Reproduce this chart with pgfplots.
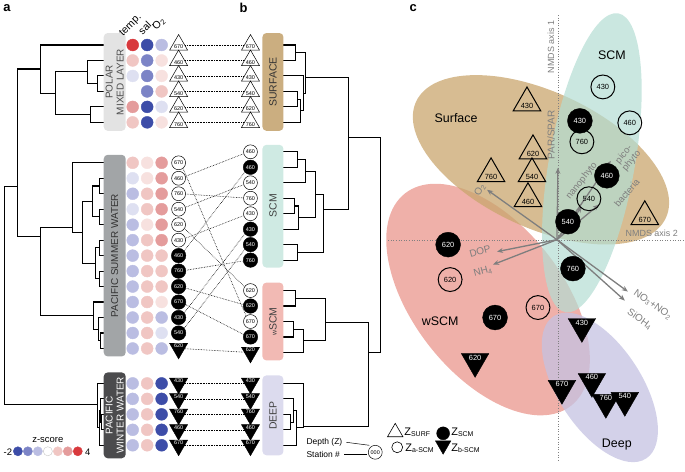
\documentclass[border=0pt]{standalone}
\usepackage{pgfplots}
\pgfplotsset{compat=1.18}
\usepackage{fontspec}
\setmainfont{Liberation Sans}
\usetikzlibrary{arrows.meta}
\definecolor{zdb}{HTML}{3D4DA8}
\definecolor{zmb}{HTML}{7C84C6}
\definecolor{zlb}{HTML}{BABDE2}
\definecolor{zvb}{HTML}{DEE0F1}
\definecolor{zvr}{HTML}{F7E1DF}
\definecolor{zlr}{HTML}{F0C6C3}
\definecolor{zmr}{HTML}{E49C9C}
\definecolor{zdr}{HTML}{D8393D}
\definecolor{cSurf}{HTML}{C9A66E}
\definecolor{cSCM}{HTML}{B3DDD3}
\definecolor{cwSCM}{HTML}{EB9C93}
\definecolor{cDeep}{HTML}{C4C2E2}
\definecolor{boxPML}{HTML}{E3E3E3}
\definecolor{boxPSW}{HTML}{A2A5A7}
\definecolor{boxPWW}{HTML}{4B4B4D}
\definecolor{boxSurf}{HTML}{CBAE80}
\definecolor{boxSCM}{HTML}{CFEAE3}
\definecolor{boxwSCM}{HTML}{F2BAB4}
\definecolor{boxDeep}{HTML}{DCDBEE}
\definecolor{arrgray}{HTML}{7E7E7E}
\newcommand{\fs}[2]{\fontsize{#1}{#2}\selectfont}
\pgfplotsset{
  dend/.style={black, line width=1.1pt, no markers, line join=miter},
  lbl/.style={point meta=explicit symbolic, nodes near coords, nodes near coords align=center},
  symup/.style={only marks, lbl, mark=triangle*, mark size=10.5pt, mark options={fill=white, draw=black, line width=0.5pt},
     every node near coord/.append style={font=\fs{5.5}{6}, inner sep=0pt, text=black, yshift=-2pt}},
  symoc/.style={only marks, lbl, mark=*, mark size=7pt, mark options={fill=white, draw=black, line width=0.5pt},
     every node near coord/.append style={font=\fs{5.5}{6}, inner sep=0pt, text=black}},
  symbc/.style={only marks, lbl, mark=*, mark size=7.3pt, mark options={fill=black, draw=black},
     every node near coord/.append style={font=\fs{5.5}{6}, inner sep=0pt, text=white}},
  symdn/.style={only marks, lbl, mark=triangle*, mark size=10.5pt, mark options={rotate=180, fill=black, draw=black},
     every node near coord/.append style={font=\fs{5.5}{6}, inner sep=0pt, text=white, yshift=2.5pt}},
  cup/.style={only marks, lbl, mark=triangle, mark size=16pt, mark options={draw=black, line width=1pt},
     every node near coord/.append style={font=\fs{7.5}{8}, inner sep=0pt, text=black, yshift=-3pt}},
  coc/.style={only marks, lbl, mark=o, mark size=12pt, mark options={draw=black, line width=1pt},
     every node near coord/.append style={font=\fs{7.5}{8}, inner sep=0pt, text=black}},
  cbc/.style={only marks, lbl, mark=*, mark size=12.5pt, mark options={fill=black, draw=black},
     every node near coord/.append style={font=\fs{7.5}{8}, inner sep=0pt, text=white}},
  cdn/.style={only marks, lbl, mark=triangle*, mark size=16pt, mark options={rotate=180, fill=black, draw=black},
     every node near coord/.append style={font=\fs{7.5}{8}, inner sep=0pt, text=white, yshift=4pt}},
  arr/.style={arrgray, line width=1.3pt, no markers, -{Stealth[length=6pt,width=5pt]}},
}
\newcommand{\D}[1]{\addplot[dend] coordinates {#1};}
\newcommand{\Lk}[2]{\addplot[black, densely dotted, line width=0.6pt, no markers] coordinates {(180,#1)(248,#2)};}
\begin{document}
\begin{tikzpicture}
\begin{axis}[width=685bp, height=466bp, scale only axis,
  xmin=0, xmax=685, ymin=0, ymax=466, y dir=reverse, hide axis, clip=false]
\path (rel axis cs:0,0) rectangle (rel axis cs:1,1);
% ================= panel c : ellipses =================
\fill[cwSCM, fill opacity=0.8] (axis cs:488,300) ellipse [x radius=135bp, y radius=75bp, rotate=-52];
\fill[cSurf, fill opacity=0.75] (axis cs:541,160) ellipse [x radius=138bp, y radius=68bp, rotate=-25];
\fill[cSCM, fill opacity=0.7] (axis cs:592,163) ellipse [x radius=43bp, y radius=152bp, rotate=-10];
\fill[cDeep, fill opacity=0.75] (axis cs:600,388) ellipse [x radius=85bp, y radius=42bp, rotate=-57];
% NMDS axes
\addplot[gray, dotted, line width=0.6pt, no markers] coordinates {(558,15)(558,462)};
\addplot[gray, dotted, line width=0.6pt, no markers] coordinates {(388,241)(685,241)};
\node[rotate=90, font=\fs{9}{10}, text=arrgray] at (axis cs:551,47) {NMDS axis 1};
\node[font=\fs{9}{10}, text=arrgray] at (axis cs:652,234) {NMDS axis 2};
% arrows
\addplot[arr] coordinates {(557,240)(558,168)};
\addplot[arr] coordinates {(557,240)(487,190)};
\addplot[arr] coordinates {(557,240)(582,207)};
\addplot[arr] coordinates {(557,240)(611,161)};
\addplot[arr] coordinates {(557,240)(599,205)};
\addplot[arr] coordinates {(557,240)(497,252)};
\addplot[arr] coordinates {(557,240)(493,265)};
\addplot[arr] coordinates {(557,240)(628,292)};
\addplot[arr] coordinates {(557,240)(625,301)};
\node[rotate=90, font=\fs{10}{11}, text=arrgray] at (axis cs:551,135) {PAR/SPAR};
\node[rotate=60, font=\fs{10}{11}, text=arrgray] at (axis cs:480,190) {O\textsubscript{2}};
\node[rotate=52, font=\fs{9.5}{10}, text=arrgray] at (axis cs:582,181) {nanophyto};
\node[rotate=50, font=\fs{9.5}{10}, text=arrgray, align=center] at (axis cs:628,158) {pico-\\phyto};
\node[rotate=50, font=\fs{9.5}{10}, text=arrgray] at (axis cs:627,193) {bacteria};
\node[rotate=15, font=\fs{10}{11}, text=arrgray] at (axis cs:480,252) {DOP};
\node[rotate=15, font=\fs{10}{11}, text=arrgray] at (axis cs:483,272) {NH\textsubscript{4}};
\node[rotate=-35, font=\fs{10}{11}, text=arrgray] at (axis cs:653,305) {NO\textsubscript{3}+NO\textsubscript{2}};
\node[rotate=-35, font=\fs{10}{11}, text=arrgray] at (axis cs:640,320) {SiOH\textsubscript{4}};
% points panel c
\addplot[cup] coordinates {(527,103)[430] (533,151)[620] (532,174)[540] (528,199)[460] (491,174)[760] (645,217)[670]};
\addplot[coc] coordinates {(603,87)[430] (630,123)[460] (582,142)[760] (589,199)[540] (450,280)[620] (538,308)[670]};
\addplot[cbc] coordinates {(580,121)[430] (607,176)[460] (568,222)[540] (573,269)[760] (448,245)[620] (495,318)[670]};
\addplot[cdn] coordinates {(475,362)[620] (582,327)[430] (562,389)[670] (592,382)[460] (606,403)[760] (625,401)[540]};
\node[font=\fs{12.5}{13}] at (axis cs:456,118) {Surface};
\node[font=\fs{12.5}{13}] at (axis cs:612,55) {SCM};
\node[font=\fs{12.5}{13}] at (axis cs:440,322) {wSCM};
\node[font=\fs{12.5}{13}] at (axis cs:617,445) {Deep};
% legend panel c
\addplot[only marks, mark=triangle, mark size=9pt, mark options={draw=black, line width=0.6pt}] coordinates {(395,433)};
\addplot[only marks, mark=*, mark size=6.5pt, black] coordinates {(443,434)};
\addplot[only marks, mark=o, mark size=5.5pt, mark options={draw=black, line width=0.6pt}] coordinates {(397,448)};
\addplot[only marks, mark=triangle*, mark size=9pt, mark options={rotate=180, fill=black, draw=black}] coordinates {(443,446)};
\node[anchor=west, font=\fs{11}{12}, inner sep=0pt] at (axis cs:404,433) {Z\textsubscript{\fs{7}{8}SURF}};
\node[anchor=west, font=\fs{11}{12}, inner sep=0pt] at (axis cs:451,433) {Z\textsubscript{\fs{7}{8}SCM}};
\node[anchor=west, font=\fs{11}{12}, inner sep=0pt] at (axis cs:405,449) {Z\textsubscript{\fs{7}{8}a-SCM}};
\node[anchor=west, font=\fs{11}{12}, inner sep=0pt] at (axis cs:451,449) {Z\textsubscript{\fs{7}{8}b-SCM}};
% ================= panel a dendrogram =================
\D{(103,76)(97,76)(97,91.5)(103,91.5)}
\D{(103,60.5)(87,60.5)(87,83.75)(97,83.75)}
\D{(103,107)(90,107)(90,122.5)(103,122.5)}
\D{(87,72)(55,72)(55,114.75)(90,114.75)}
\D{(103,45)(40,45)(40,93.4)(55,93.4)}
\D{(40,69)(17,69)(17,237)(40,237)}
\D{(103,178.5)(99,178.5)(99,194)(103,194)}
\D{(103,209.5)(99,209.5)(99,225)(103,225)}
\D{(99,186.25)(92,186.25)(92,217.25)(99,217.25)}
\D{(103,240.5)(99,240.5)(99,256)(103,256)}
\D{(103,271.5)(99,271.5)(99,287)(103,287)}
\D{(99,248.25)(95,248.25)(95,279.25)(99,279.25)}
\D{(92,201.75)(82,201.75)(82,263.75)(95,263.75)}
\D{(103,163)(72,163)(72,232.75)(82,232.75)}
\D{(103,333.5)(100,333.5)(100,349)(103,349)}
\D{(103,318)(98,318)(98,341.25)(100,341.25)}
\D{(103,302.5)(93,302.5)(93,329.6)(98,329.6)}
\D{(72,228)(40,228)(40,316)(93,316)}
\D{(17,187)(4,187)(4,405)(97,405)}
\D{(103,415)(101,415)(101,430.5)(103,430.5)}
\D{(103,399.5)(99.5,399.5)(99.5,422.75)(101,422.75)}
\D{(99.5,411)(98.5,411)(98.5,446)(103,446)}
\D{(103,384)(97,384)(97,428.5)(98.5,428.5)}
% ================= panel b dendrogram =================
\D{(283,45)(295,45)(295,60.5)(283,60.5)}
\D{(283,91.5)(297,91.5)(297,107)(283,107)}
\D{(297,99.25)(300,99.25)(300,122.5)(283,122.5)}
\D{(283,76)(303,76)(303,110.9)(300,110.9)}
\D{(295,52.75)(305,52.75)(305,93.4)(303,93.4)}
\D{(305,78)(348,78)(348,210)(323,210)}
\D{(283,152)(297,152)(297,167.5)(283,167.5)}
\D{(297,159.75)(305,159.75)(305,183)(283,183)}
\D{(283,198.5)(294,198.5)(294,214)(283,214)}
\D{(294,206.25)(298,206.25)(298,229.5)(283,229.5)}
\D{(305,171.4)(315,171.4)(315,217.9)(298,217.9)}
\D{(283,245)(297,245)(297,260.5)(283,260.5)}
\D{(315,194.6)(323,194.6)(323,252.75)(297,252.75)}
\D{(348,138)(380,138)(380,353)(368,353)}
\D{(283,291)(295,291)(295,306.5)(283,306.5)}
\D{(283,322)(293,322)(293,337.5)(283,337.5)}
\D{(293,329.75)(303,329.75)(303,353)(283,353)}
\D{(295,298.75)(325,298.75)(325,341.4)(303,341.4)}
\D{(325,323)(368,323)(368,427)(303,427)}
\D{(283,415)(290,415)(290,430.5)(283,430.5)}
\D{(283,399.5)(293,399.5)(293,422.75)(290,422.75)}
\D{(293,411)(296,411)(296,446)(283,446)}
\D{(283,384)(303,384)(303,428.5)(296,428.5)}
% ================= boxes =================
\fill[boxPML, rounded corners=4bp] (axis cs:103,33) rectangle (axis cs:125,131);
\fill[boxPSW, rounded corners=4bp] (axis cs:103,155) rectangle (axis cs:125,357);
\fill[boxPWW, rounded corners=4bp] (axis cs:103,373) rectangle (axis cs:125,459);
\fill[boxSurf, rounded corners=4bp] (axis cs:262,33) rectangle (axis cs:283,131);
\fill[boxSCM, rounded corners=4bp] (axis cs:262,145) rectangle (axis cs:283,268);
\fill[boxwSCM, rounded corners=4bp] (axis cs:262,283) rectangle (axis cs:283,361);
\fill[boxDeep, rounded corners=4bp] (axis cs:262,376) rectangle (axis cs:283,456);
\node[rotate=90, align=center, font=\fs{10}{11}, text=black!70] at (axis cs:114,82) {POLAR\\MIXED LAYER};
\node[rotate=90, font=\fs{10}{11}, text=black!80] at (axis cs:114,256) {PACIFIC SUMMER WATER};
\node[rotate=90, align=center, font=\fs{10}{11}, text=white] at (axis cs:114,416) {PACIFIC\\WINTER WATER};
\node[rotate=90, font=\fs{10.5}{11}, text=black!80] at (axis cs:272.5,82) {SURFACE};
\node[rotate=90, font=\fs{10.5}{11}, text=black!75] at (axis cs:272.5,206) {SCM};
\node[rotate=90, font=\fs{10.5}{11}, text=black!75] at (axis cs:272.5,322) {{\fs{7}{8}w}SCM};
\node[rotate=90, font=\fs{10.5}{11}, text=black!75] at (axis cs:272.5,416) {DEEP};
% ================= heat dots =================
\addplot[scatter, only marks, scatter src=explicit symbolic, mark size=6pt,
  scatter/classes={
    db={mark=*,draw=zdb,fill=zdb}, mb={mark=*,draw=zmb,fill=zmb},
    lb={mark=*,draw=zlb,fill=zlb}, vb={mark=*,draw=zvb,fill=zvb},
    wh={mark=*,draw=gray!35,fill=white},
    vr={mark=*,draw=zvr,fill=zvr}, lr={mark=*,draw=zlr,fill=zlr},
    mr={mark=*,draw=zmr,fill=zmr}, dr={mark=*,draw=zdr,fill=zdr}}]
  table[meta=c]{
x y c
132 45 dr
146.5 45 db
161 45 lb
132 60.5 lr
146.5 60.5 mb
161 60.5 vr
132 76 vb
146.5 76 mb
161 76 vr
146.5 91.5 mb
161 91.5 lr
132 107 mr
146.5 107 db
161 107 vb
132 122.5 lr
146.5 122.5 db
161 122.5 vr
132 163 lr
146.5 163 vr
161 163 mr
132 178.5 vb
146.5 178.5 vr
161 178.5 mr
132 194 lb
146.5 194 lr
161 194 mr
132 209.5 vb
146.5 209.5 lr
161 209.5 mr
132 225 lb
146.5 225 vr
161 225 mr
132 240.5 lb
146.5 240.5 lr
161 240.5 mr
132 256 lb
146.5 256 lr
161 256 lr
132 271.5 lb
146.5 271.5 lr
161 271.5 lr
132 287 lb
146.5 287 lr
161 287 lr
132 302.5 lb
146.5 302.5 lr
161 302.5 vr
132 318 lb
146.5 318 lr
161 318 lb
132 333.5 lb
146.5 333.5 lr
161 333.5 vb
132 349 lb
146.5 349 lr
161 349 lb
132 384 lb
146.5 384 lr
161 384 db
132 399.5 lb
146.5 399.5 lr
161 399.5 db
132 415 lb
146.5 415 lr
161 415 db
132 430.5 lb
146.5 430.5 lr
161 430.5 db
132 446 lb
146.5 446 lr
161 446 db
};
% z-score legend
\addplot[scatter, only marks, scatter src=explicit symbolic, mark size=4.6pt,
  scatter/classes={
    db={mark=*,draw=zdb,fill=zdb}, mb={mark=*,draw=zmb,fill=zmb},
    lb={mark=*,draw=zlb,fill=zlb}, wh={mark=*,draw=gray!45,fill=white},
    lr={mark=*,draw=zlr,fill=zlr}, mr={mark=*,draw=zmr,fill=zmr}, dr={mark=*,draw=zdr,fill=zdr}}]
  table[meta=c]{
x y c
17 452 db
27 452 mb
37 452 lb
47 452 wh
57 452 lr
67 452 mr
77 452 dr
};
\node[font=\fs{9.5}{10}] at (axis cs:47,441) {z-score};
\node[font=\fs{9.5}{10}] at (axis cs:7,452.5) {-2};
\node[font=\fs{9.5}{10}] at (axis cs:87,452.5) {4};
\node[rotate=45, anchor=south west, font=\fs{10.5}{12}, inner sep=0pt] at (axis cs:124,38) {temp.};
\node[rotate=45, anchor=south west, font=\fs{10.5}{12}, inner sep=0pt] at (axis cs:142,36) {sal.};
\node[rotate=45, anchor=south west, font=\fs{10.5}{12}, inner sep=0pt] at (axis cs:157,32) {O\textsubscript{2}};
% ================= tanglegram links =================
\Lk{45}{45}\Lk{60.5}{60.5}\Lk{76}{76}\Lk{91.5}{91.5}\Lk{107}{107}\Lk{122.5}{122.5}
\Lk{163}{322}\Lk{178.5}{152}\Lk{194}{198.5}\Lk{209.5}{183}\Lk{225}{291}\Lk{240.5}{214}
\Lk{256}{167.5}\Lk{271.5}{260.5}\Lk{287}{306.5}\Lk{302.5}{337.5}\Lk{318}{229.5}\Lk{333.5}{245}
\Lk{349}{353}
\Lk{384}{384}\Lk{399.5}{399.5}\Lk{415}{415}\Lk{430.5}{430.5}\Lk{446}{446}
% symbols panel a
\addplot[symup] coordinates {(178,45)[670] (178,60.5)[460] (178,76)[430] (178,91.5)[540] (178,107)[620] (178,122.5)[760]};
\addplot[symoc] coordinates {(178,163)[670] (178,178.5)[460] (178,194)[760] (178,209.5)[540] (178,225)[620] (178,240.5)[430]};
\addplot[symbc] coordinates {(178,256)[460] (178,271.5)[760] (178,287)[620] (178,302.5)[670] (178,318)[430] (178,333.5)[540]};
\addplot[symdn] coordinates {(178,349)[620] (178,384)[430] (178,399.5)[540] (178,415)[760] (178,430.5)[460] (178,446)[670]};
% symbols panel b
\addplot[symup] coordinates {(250,45)[670] (250,60.5)[460] (250,76)[430] (250,91.5)[540] (250,107)[620] (250,122.5)[760]};
\addplot[symoc] coordinates {(250,152)[460] (250,183)[540] (250,198.5)[760] (250,214)[430] (250,291)[620] (250,322)[670]};
\addplot[symbc] coordinates {(250,167.5)[460] (250,229.5)[430] (250,245)[540] (250,260.5)[760] (250,306.5)[620] (250,337.5)[670]};
\addplot[symdn] coordinates {(250,353)[620] (250,384)[430] (250,399.5)[540] (250,415)[760] (250,430.5)[460] (250,446)[670]};
% depth/station key
\addplot[black, line width=0.5pt, no markers] coordinates {(346,443)(369,446)};
\addplot[black, line width=0.5pt, no markers] coordinates {(344,455)(367,455)};
\addplot[symoc] coordinates {(375,453)[000]};
\node[anchor=west, font=\fs{8.5}{9}, inner sep=0pt] at (axis cs:306,443) {Depth (Z)};
\node[anchor=west, font=\fs{8.5}{9}, inner sep=0pt] at (axis cs:306,455) {Station \#};
% panel letters
\node[font=\bfseries\fs{13}{13}] at (axis cs:6,8) {a};
\node[font=\bfseries\fs{13}{13}] at (axis cs:243,8) {b};
\node[font=\bfseries\fs{13}{13}] at (axis cs:413,8) {c};
\end{axis}
\end{tikzpicture}
\end{document}
